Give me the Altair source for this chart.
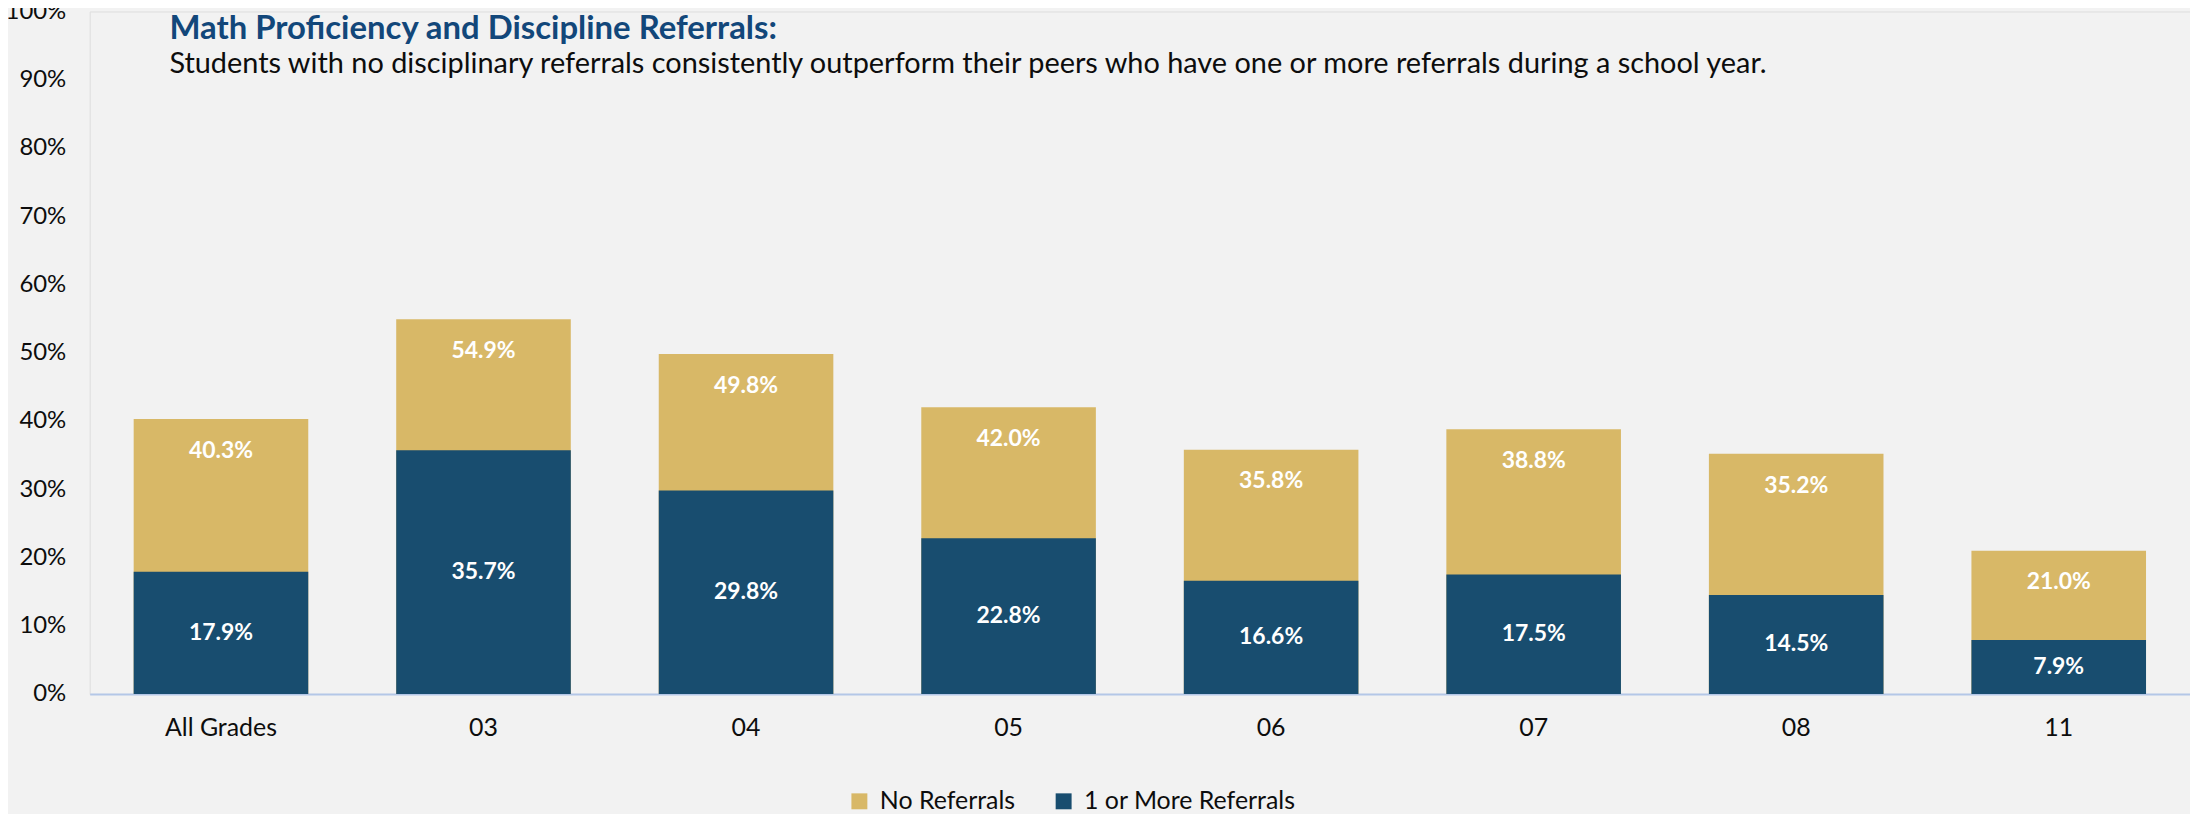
import altair as alt
import pandas as pd

grades = ["All Grades", "03", "04", "05", "06", "07", "08", "11"]
no_referrals = [40.3, 54.9, 49.8, 42.0, 35.8, 38.8, 35.2, 21.0]
one_or_more = [17.9, 35.7, 29.8, 22.8, 16.6, 17.5, 14.5, 7.9]
series_names = ["No Referrals", "1 or More Referrals"]
series_colors = ["#D8B867", "#184D6F"]
y_ticks = [0, 10, 20, 30, 40, 50, 60, 70, 80, 90, 100]

rows = []
for g, v in zip(grades, no_referrals):
    rows.append({"grade": g, "series": series_names[0], "value": v})
for g, v in zip(grades, one_or_more):
    rows.append({"grade": g, "series": series_names[1], "value": v})
df = pd.DataFrame(rows)

FONT = "Lato"

x_enc = alt.X(
    "grade:N",
    sort=grades,
    scale=alt.Scale(paddingInner=0.335, paddingOuter=0.1675),
    axis=alt.Axis(
        title=None,
        labelAngle=0,
        labelFont=FONT,
        labelFontSize=25,
        labelColor="#0d0d0d",
        labelPadding=22,
        ticks=False,
        domainColor="#B4C7E7",
        domainWidth=2,
        grid=False,
    ),
)
y_enc = alt.Y(
    "value:Q",
    stack=None,
    scale=alt.Scale(domain=[0, 100], nice=False),
    axis=alt.Axis(
        title=None,
        values=y_ticks,
        labelExpr="datum.value + '%'",
        labelFont=FONT,
        labelFontSize=24,
        labelColor="#0d0d0d",
        labelPadding=24,
        ticks=False,
        domain=False,
        grid=False,
    ),
)

base = alt.Chart(df)

bars = base.mark_bar().encode(
    x=x_enc,
    y=y_enc,
    color=alt.Color(
        "series:N",
        scale=alt.Scale(domain=series_names, range=series_colors),
        legend=alt.Legend(
            title=None,
            orient="none",
            direction="horizontal",
            legendX=760,
            legendY=780,
            symbolType="square",
            symbolSize=256,
            symbolStrokeWidth=0,
            symbolOpacity=1,
            labelFont=FONT,
            labelFontSize=25,
            labelColor="#0d0d0d",
            labelLimit=0,
            columnPadding=36,
            labelOffset=8,
        ),
    ),
    order=alt.Order("order:Q"),
).transform_calculate(order="datum.series == 'No Referrals' ? 0 : 1")

top_labels = base.transform_filter(
    alt.datum.series == series_names[0]
).transform_calculate(
    label="format(datum.value, '.1f') + '%'"
).mark_text(
    font=FONT, fontSize=23, fontWeight="bold", color="white", baseline="middle", dy=32
).encode(x=alt.X("grade:N", sort=grades), y=alt.Y("value:Q"), text="label:N")

mid_labels = base.transform_filter(
    alt.datum.series == series_names[1]
).transform_calculate(
    label="format(datum.value, '.1f') + '%'", mid="datum.value / 2"
).mark_text(
    font=FONT, fontSize=23, fontWeight="bold", color="white", baseline="middle"
).encode(x=alt.X("grade:N", sort=grades), y=alt.Y("mid:Q"), text="label:N")

chart = alt.layer(bars, top_labels, mid_labels).properties(
    width=2108,
    height=685,
    padding={"left": 82, "top": 2, "right": 0, "bottom": 119},
    autosize=alt.AutoSizeParams(type="none"),
    background="#F2F2F2",
    title=alt.TitleParams(
        text="Math Proficiency and Discipline Referrals:",
        subtitle="Students with no disciplinary referrals consistently outperform their peers who have one or more referrals during a school year.",
        anchor="start",
        frame="group",
        orient="top",
        baseline="top",
        font=FONT,
        fontSize=33,
        fontWeight="bold",
        color="#12477A",
        subtitleFont=FONT,
        subtitleFontSize=29,
        subtitleColor="#0d0d0d",
        subtitlePadding=4,
        offset=0,
        dx=80,
        dy=80,
    ),
).configure_view(stroke=None).configure(background="#F2F2F2")

chart.save("out.html", embed_options={"renderer": "svg", "actions": False})
